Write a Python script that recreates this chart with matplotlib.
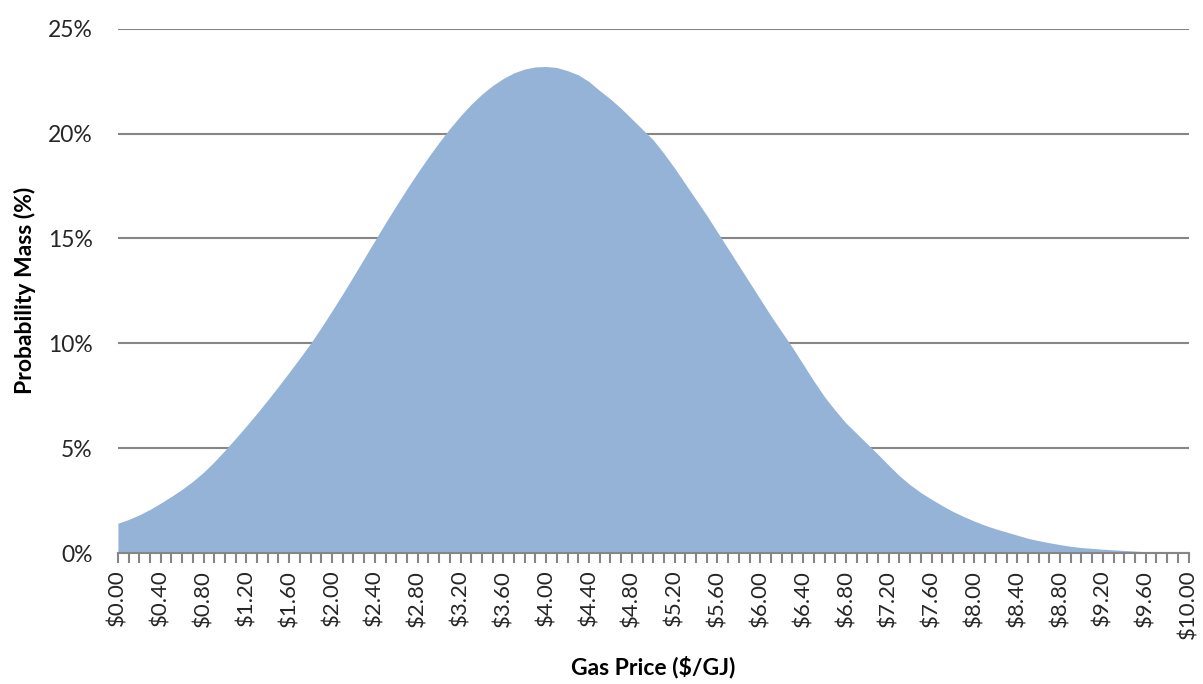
import numpy as np
import matplotlib.pyplot as plt
from matplotlib.ticker import FuncFormatter, MultipleLocator

plt.rcParams['font.family'] = ['Lato', 'DejaVu Sans']

# gas price categories ($/GJ), one every 10 cents
price = [round(i * 0.1, 1) for i in range(101)]

# probability mass (%)
prob_left = [1.42, 1.60, 1.82, 2.08, 2.38, 2.70, 3.04, 3.42, 3.85, 4.35,
             4.90, 5.47, 6.06, 6.67, 7.30, 7.95, 8.62, 9.30, 10.00, 10.76,
             11.55, 12.36, 13.20, 14.05, 14.90, 15.75, 16.57, 17.37, 18.14, 18.88,
             19.58, 20.24, 20.85, 21.40, 21.88, 22.29, 22.63, 22.90, 23.08, 23.18]
prob_right = [23.20, 23.15, 23.00, 22.80, 22.48, 22.05, 21.65, 21.20, 20.70, 20.20,
              19.70, 19.05, 18.35, 17.60, 16.85, 16.10, 15.30, 14.50, 13.70, 12.90,
              12.10, 11.30, 10.55, 9.80, 9.00, 8.20, 7.45, 6.80, 6.20, 5.70,
              5.20, 4.70, 4.18, 3.68, 3.25, 2.88, 2.56, 2.26, 1.98, 1.74,
              1.52, 1.32, 1.15, 1.00, 0.85, 0.70, 0.59, 0.49, 0.40, 0.32,
              0.26, 0.22, 0.18, 0.15, 0.12, 0.09, 0.06, 0.03, 0.01, 0.0, 0.0]
prob = prob_left + prob_right

y_ticks = [0, 5, 10, 15, 20, 25]

fig = plt.figure(figsize=(12.03, 6.84), dpi=100)
ax = fig.add_axes([0.098, 0.1915, 0.89, 0.7665])

ax.fill_between(price, prob, 0, color='#95B3D7', linewidth=0, zorder=2)

ax.set_xlim(0, 10)
ax.set_ylim(0, 25)

#gridlines
ax.set_yticks(y_ticks)
ax.yaxis.set_major_formatter(FuncFormatter(lambda v, p: f"{int(v)}%"))
ax.grid(axis='y', color='#868686', linewidth=1.5, zorder=1)
ax.tick_params(axis='y', length=0, labelsize=16.5, pad=18, labelcolor='#262626')

#x axis: labels every 0.4, small ticks every 0.1
ax.xaxis.set_major_locator(MultipleLocator(0.4))
ax.xaxis.set_minor_locator(MultipleLocator(0.1))
ax.xaxis.set_major_formatter(FuncFormatter(lambda v, p: f"${v:.2f}"))
ax.tick_params(axis='x', which='both', direction='out', length=7, width=1.5,
               color='#868686', labelsize=16, labelrotation=90, labelcolor='#262626',
               pad=5)

for side in ['top', 'right', 'left']:
    ax.spines[side].set_visible(False)
ax.spines['bottom'].set_color('#868686')
ax.spines['bottom'].set_linewidth(1.5)
ax.spines['bottom'].set_zorder(3)

ax.set_xlabel("Gas Price ($/GJ)", fontsize=16.5, fontweight='bold', labelpad=12)
ax.set_ylabel("Probability Mass (%)", fontsize=16.5, fontweight='bold', labelpad=9)

fig.savefig("out.png", dpi=100)
